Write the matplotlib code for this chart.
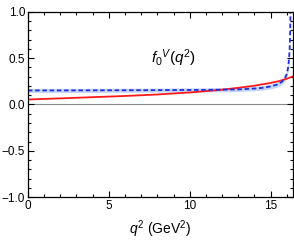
import numpy as np
import matplotlib
matplotlib.use('Agg')
import matplotlib.pyplot as plt
from matplotlib.ticker import MultipleLocator

plt.rcParams['font.family'] = ['Liberation Sans', 'DejaVu Sans']
plt.rcParams['mathtext.fontset'] = 'custom'
plt.rcParams['mathtext.rm'] = 'Liberation Sans'
plt.rcParams['mathtext.it'] = 'Liberation Sans:italic'

# ---------- data ---------- #
qBlue = [0, 2, 4, 6, 8, 10, 11, 12, 13, 14, 14.5, 15, 15.4, 15.7, 15.9,
         16.0, 16.08, 16.14, 16.18, 16.21, 16.23]
fBlue = [0.152, 0.152, 0.153, 0.154, 0.155, 0.157, 0.158, 0.160, 0.163,
         0.172, 0.180, 0.195, 0.215, 0.245, 0.29, 0.33, 0.40, 0.50,
         0.62, 0.80, 1.02]
errBlue = [0.022, 0.022, 0.022, 0.022, 0.022, 0.022, 0.022, 0.023, 0.023,
           0.024, 0.025, 0.026, 0.028, 0.030, 0.033, 0.036, 0.040, 0.045,
           0.050, 0.060, 0.070]

qRed = [0, 2, 4, 6, 8, 10, 11, 12, 13, 14, 15, 15.5, 16.0, 16.39]
fRed = [0.054, 0.066, 0.079, 0.092, 0.108, 0.130, 0.144, 0.160, 0.180,
        0.203, 0.233, 0.252, 0.278, 0.305]

qMax = 16.39

# ---------- plot ---------- #
fig = plt.figure(figsize=(2.94, 2.43), dpi=100)
ax = fig.add_axes([0.095, 0.189, 0.902, 0.762])

lo = np.array(fBlue) - np.array(errBlue)
hi = np.array(fBlue) + np.array(errBlue)
ax.fill_between(qBlue, lo, hi, color='#c5d5f7', lw=0)
ax.plot(qRed, fRed, color='#ff1a1a', lw=1.3)
ax.plot(qBlue, fBlue, color='#1f2fe0', lw=1.3, ls=(0, (2.5, 1.5)))
ax.axhline(0, color='#888888', lw=0.8, zorder=0)

ax.set_xlim(0, qMax)
ax.set_ylim(-1, 1)
ax.xaxis.set_major_locator(MultipleLocator(5))
ax.xaxis.set_minor_locator(MultipleLocator(1))
ax.yaxis.set_major_locator(MultipleLocator(0.5))
ax.yaxis.set_minor_locator(MultipleLocator(0.1))
ax.tick_params(which='both', direction='in', top=True, right=True,
               labelsize=8.5, pad=2, width=0.8)
ax.tick_params(which='major', length=4)
ax.tick_params(which='minor', length=2.2)
for s in ax.spines.values():
    s.set_linewidth(0.9)
ax.set_yticks([-1, -0.5, 0, 0.5, 1])
ax.set_yticklabels(['\u22121.0', '\u22120.5', '0.0', '0.5', '1.0'])

ax.set_xlabel('$q^2$ (GeV$^2$)', fontsize=10, labelpad=5)
ax.text(0.55, 0.75, '$f_0{}^V(q^2)$', transform=ax.transAxes,
        fontsize=11, ha='center', va='center')

plt.savefig('out.png', dpi=100)
